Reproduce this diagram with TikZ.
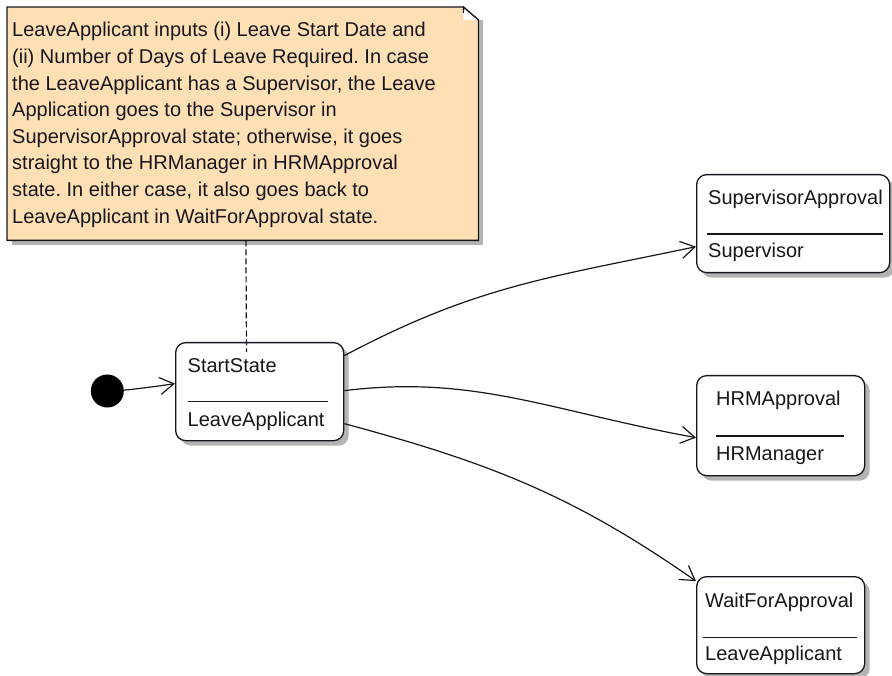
\documentclass[tikz,border=0pt]{standalone}
\usepackage{fontspec}
\setmainfont{Liberation Sans}
\usetikzlibrary{arrows.meta,shadows,calc}
\definecolor{notefill}{RGB}{255,224,180}
\definecolor{shadowgray}{RGB}{180,180,180}
\definecolor{inkc}{RGB}{22,22,30}
\frenchspacing
\begin{document}
\begin{tikzpicture}[x=1pt,y=-1pt,
  lbl/.style={anchor=base west, inner sep=0pt, text=inkc, font=\fontsize{20}{26.6}\selectfont},
  statebox/.style={draw=inkc, line width=1.3pt, fill=white, rounded corners=10pt,
    inner sep=0pt, anchor=north west,
    drop shadow={shadow xshift=5pt, shadow yshift=-5pt, fill=shadowgray, opacity=1}},
  sepline/.style={draw=inkc, line width=1.3pt},
  trans/.style={draw=inkc, line width=1.2pt,
    -{Straight Barb[length=14pt,width=17pt,line width=1.2pt]}},
  ]
\useasboundingbox (0,0) rectangle (892,676);

% comment note with folded corner
\node[minimum width=471pt, minimum height=233pt, inner sep=0pt, anchor=north west] (note) at (7,7) {};
\fill[shadowgray] ($(note.south west)+(5,0)$) rectangle ($(note.south east)+(5,5)$);
\fill[shadowgray] ($(note.north east)+(0,13)$) rectangle ($(note.south east)+(5,5)$);
\filldraw[fill=notefill, draw=inkc, line width=1.3pt]
  (note.north west) -- ($(note.north east)+(-15,0)$) -- ($(note.north east)+(0,13)$)
  -- (note.south east) -- (note.south west) -- cycle;
\fill[white] ($(note.north east)+(-15,0)$) -- ($(note.north east)+(-15,13)$) -- ($(note.north east)+(0,13)$) -- cycle;
\draw[inkc, line width=1.3pt] ($(note.north east)+(-15,6)$) -- ($(note.north east)+(-15,0)$) -- ($(note.north east)+(0,13)$);
% the base of a multi-line node is its last line
\node[lbl, align=left] (notetext) at (12,223.2) {LeaveApplicant inputs (i) Leave Start Date and\\
(ii) Number of Days of Leave Required. In case\\
the LeaveApplicant has a Supervisor, the Leave\\
Application goes to the Supervisor in\\
SupervisorApproval state; otherwise, it goes\\
straight to the HRManager in HRMApproval\\
state. In either case, it also goes back to\\
LeaveApplicant in WaitForApproval state.};

% initial pseudo-state
\node[circle, fill=black, minimum size=33pt, inner sep=0pt] (init) at (107.3,391) {};

% state boxes
\node[statebox, minimum width=168pt, minimum height=98pt] (start) at (175,342) {};
\node[statebox, minimum width=193pt, minimum height=98pt] (sup) at (696,174) {};
\node[statebox, minimum width=168pt, minimum height=100pt] (hrm) at (696,375) {};
\node[statebox, minimum width=168pt, minimum height=97pt] (wait) at (696,576) {};

% compartments
\node[lbl] (startname) at (187.5,373) {StartState};
\draw[sepline] (188,401.7) -- (328,401.7);
\node[lbl] (startactor) at (187.5,426.7) {LeaveApplicant};

\node[lbl] (supname) at (708,205) {SupervisorApproval};
\draw[sepline] (707,234) -- (883,234);
\node[lbl] (supactor) at (708,257.3) {Supervisor};

\node[lbl] (hrmname) at (716,406) {HRMApproval};
\draw[sepline] (716,436) -- (844,436);
\node[lbl] (hrmactor) at (716,460) {HRManager};

\node[lbl] (waitname) at (705,607.3) {WaitForApproval};
\draw[sepline] (703,637.7) -- (857,637.7);
\node[lbl] (waitactor) at (705,660.7) {LeaveApplicant};

% note attachment
\coordinate (noteend) at (246.5,352);
\draw[inkc, line width=1.2pt, dash pattern=on 6pt off 3pt] ([xshift=3.2pt]note.south) -- (noteend);

% transitions
\draw[trans] (init) .. controls +(20,-1) and +(-20,3) .. ([yshift=8pt]start.west);
\draw[trans] ([yshift=36pt]start.east) .. controls +(132,-70) and +(-147,31) .. ([yshift=-23pt]sup.west);
\draw[trans] ([yshift=1pt]start.east) .. controls +(130,-16) and +(-147,-27) .. ([yshift=-12pt]hrm.west);
\draw[trans] ([yshift=-32pt]start.east) .. controls +(145,39) and +(-123,-86) .. ([yshift=44pt]wait.west);
\end{tikzpicture}
\end{document}
